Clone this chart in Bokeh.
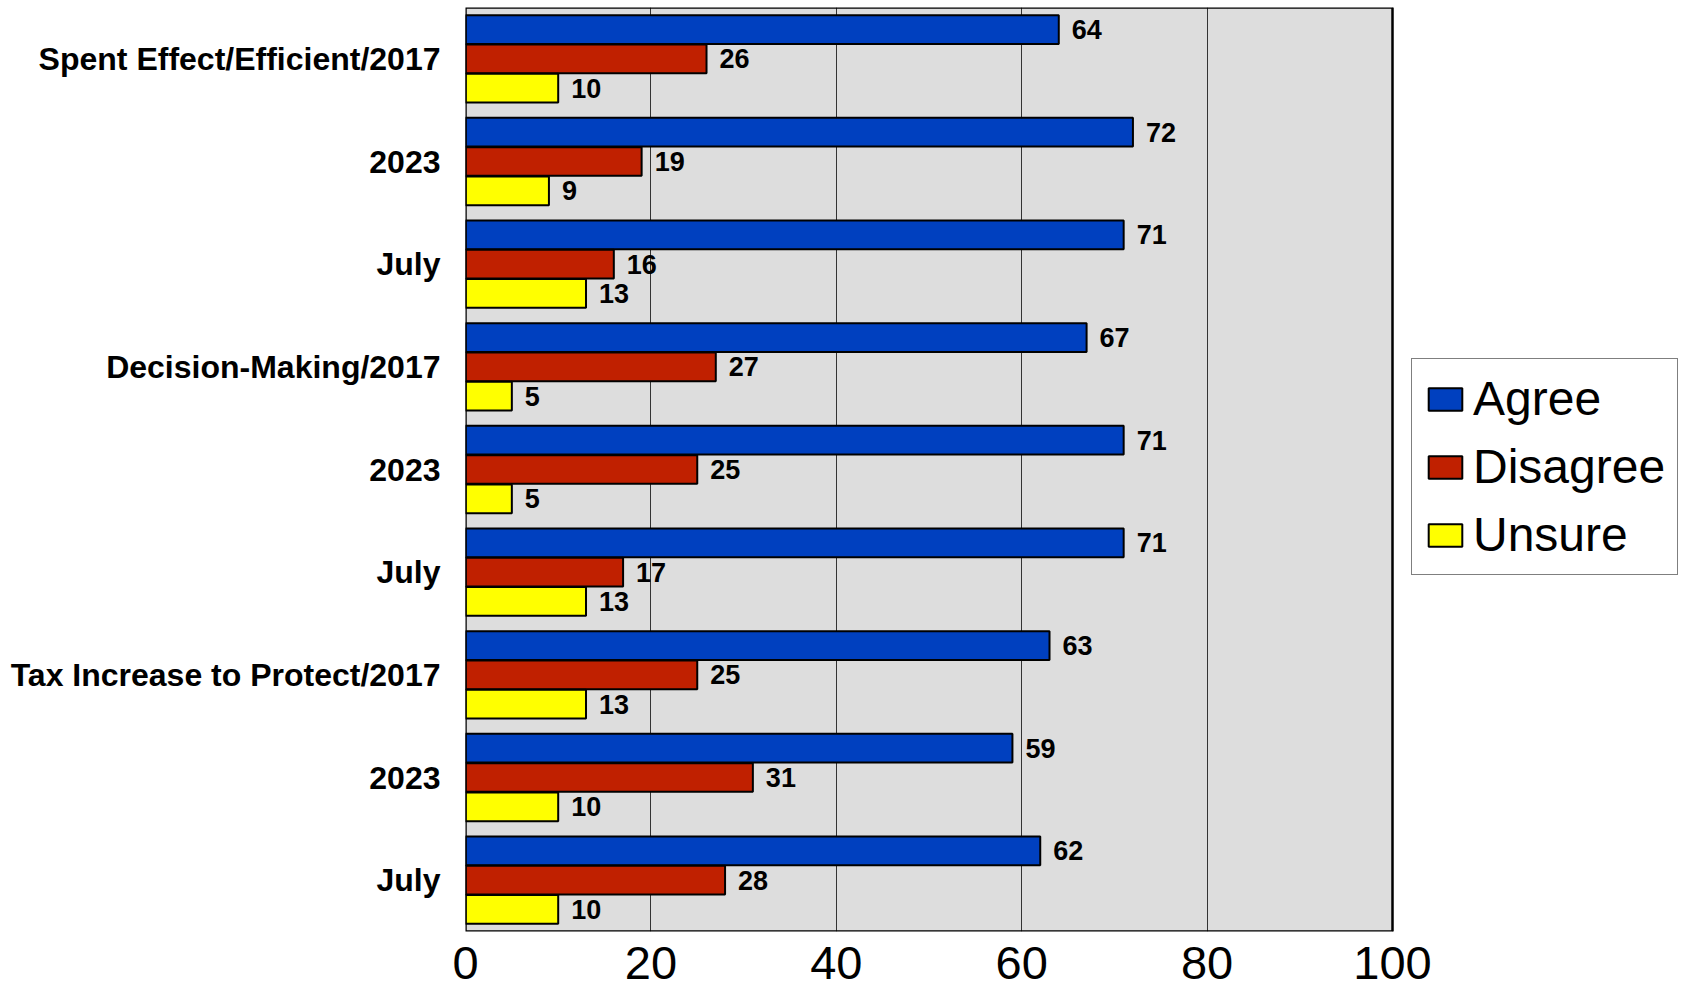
from bokeh.plotting import figure
from bokeh.models import ColumnDataSource, Range1d, Legend, LegendItem, FixedTicker, BoxAnnotation
from bokeh.transform import dodge
from bokeh.core.properties import value
from bokeh.embed import file_html
from bokeh.resources import INLINE

categories = ["Spent Effect/Efficient/2017", "2023", "July",
              "Decision-Making/2017", "2023", "July",
              "Tax Increase to Protect/2017", "2023", "July"]
agree = [64, 72, 71, 67, 71, 71, 63, 59, 62]
disagree = [26, 19, 16, 27, 25, 17, 25, 31, 28]
unsure = [10, 9, 13, 5, 5, 13, 13, 10, 10]
series_names = ["Agree", "Disagree", "Unsure"]
colors = ["#0040BF", "#C02000", "#FFFF00"]
x_ticks = [0, 20, 40, 60, 80, 100]
x_max = 100

pos = list(range(len(categories)))
src = ColumnDataSource(dict(pos=pos, agree=agree, disagree=disagree, unsure=unsure,
                            agree_t=[str(v) for v in agree],
                            disagree_t=[str(v) for v in disagree],
                            unsure_t=[str(v) for v in unsure]))

plot_w = 927      # pixel width of the 0..100 area
frame_w = 1219    # frame extends to the right to host the legend
p = figure(frame_width=frame_w, frame_height=924, output_backend="svg", toolbar_location=None,
           x_range=Range1d(0, x_max * frame_w / plot_w), y_range=Range1d(len(categories) - 0.5, -0.5),
           min_border_left=465, min_border_right=0, min_border_top=7, min_border_bottom=0)
p.background_fill_color = "white"
p.border_fill_color = "white"
p.outline_line_color = None

bg = BoxAnnotation(left=0, right=x_max, fill_color="#DDDDDD", fill_alpha=1, line_color=None, level="image")
p.add_layout(bg)
frame_box = BoxAnnotation(left=0, right=x_max, fill_alpha=0, line_color="black", line_width=2.5,
                          line_alpha=1, level="overlay")
p.add_layout(frame_box)

p.ygrid.visible = False
p.xgrid.grid_line_color = "#333333"
p.xgrid.grid_line_width = 1

p.xaxis.ticker = FixedTicker(ticks=x_ticks)
p.xaxis.axis_line_color = None
p.xaxis.major_tick_line_color = None
p.xaxis.minor_tick_line_color = None
p.xaxis.major_label_text_font = "Liberation Sans"
p.xaxis.major_label_text_font_size = "47px"
p.xaxis.major_label_text_color = "black"
p.xaxis.major_label_standoff = 9

p.yaxis.ticker = FixedTicker(ticks=pos)
p.yaxis.major_label_overrides = {i: c for i, c in enumerate(categories)}
p.yaxis.axis_line_color = None
p.yaxis.major_tick_line_color = None
p.yaxis.minor_tick_line_color = None
p.yaxis.major_label_text_font = "Liberation Sans"
p.yaxis.major_label_text_font_style = "bold"
p.yaxis.major_label_text_font_size = "32px"
p.yaxis.major_label_text_color = "black"
p.yaxis.major_label_standoff = 19

offsets = [-0.285, 0.0, 0.285]
fields = ["agree", "disagree", "unsure"]
renderers = []
for f, off, col in zip(fields, offsets, colors):
    r = p.hbar(y=dodge("pos", off, range=p.y_range), left=0, right=f, height=0.28,
               source=src, fill_color=col, line_color="black", line_width=2)
    renderers.append(r)
    p.text(x=f, y=dodge("pos", off, range=p.y_range), text=f + "_t", source=src,
           x_offset=13, text_align="left", text_baseline="middle",
           text_font=value("Liberation Sans"), text_font_style="bold",
           text_font_size="27px", text_color="black")

legend = Legend(items=[LegendItem(label=n, renderers=[r]) for n, r in zip(series_names, renderers)],
                location=(946, 356), margin=0, padding=12, spacing=13,
                glyph_width=42, glyph_height=28, label_standoff=7,
                label_text_font="Liberation Sans", label_text_font_size="48px",
                label_text_color="black", label_height=40,
                border_line_color="black", border_line_width=1.5,
                background_fill_color="white", background_fill_alpha=1)
p.add_layout(legend, "center")

open("out.html", "w").write(file_html(p, INLINE))
